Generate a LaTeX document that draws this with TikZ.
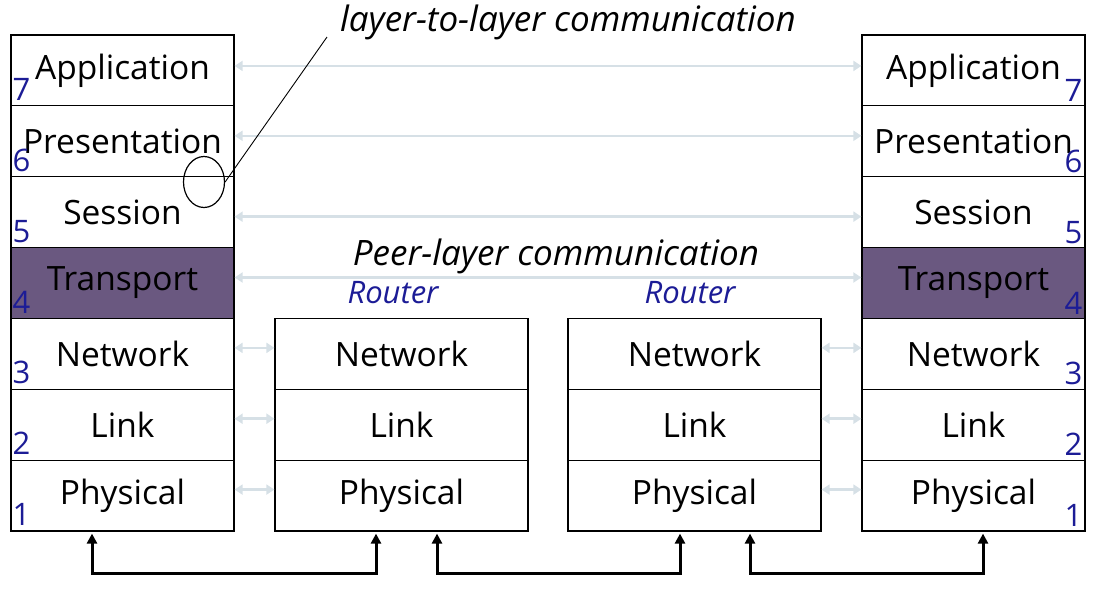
\documentclass[tikz,border=0pt]{standalone}
\usepackage{fontspec}
\setmainfont{Open Sans}
\usetikzlibrary{arrows.meta,shapes.geometric}
\definecolor{transp}{RGB}{106,88,128}
\definecolor{peer}{RGB}{214,224,230}
\definecolor{numblue}{RGB}{28,28,150}
\newcommand{\lfnt}{\fontsize{33.5}{38}\selectfont}
\newcommand{\nfnt}{\fontsize{31}{35}\selectfont}
\newcommand{\ifnt}{\fontsize{35}{40}\selectfont\itshape}
\newcommand{\rfnt}{\fontsize{31}{35}\selectfont\itshape}
\begin{document}
\begin{tikzpicture}[x=1pt,y=-1pt,
  layer/.style={draw=black, line width=1.2pt, fill=white, minimum width=223pt, minimum height=70.86pt, inner sep=0pt, font=\lfnt},
  rlayer/.style={layer, minimum width=253pt},
  numL/.style={anchor=base west, inner sep=0pt, text=numblue, font=\nfnt},
  numR/.style={anchor=base east, inner sep=0pt, text=numblue, font=\nfnt},
  peerarrow/.style={draw=peer, line width=2.5pt, {Triangle[length=8pt,width=10pt]}-{Triangle[length=8pt,width=10pt]}},
  bus/.style={draw=black, line width=3pt, {Triangle[length=10pt,width=10pt]}-{Triangle[length=10pt,width=10pt]}},
  label/.style={inner sep=0pt, font=\ifnt}
]
\useasboundingbox (0,0) rectangle (1097,590);
% left stack
\node[layer] (L7) at (122.5,70.43) {Application};
\node[layer] (L6) at (122.5,141.29) {Presentation};
\node[layer] (L5) at (122.5,212.14) {Session};
\node[layer, fill=transp] (L4) at (122.5,283) {Transport};
\node[layer] (L3) at (122.5,353.86) {Network};
\node[layer] (L2) at (122.5,424.71) {Link};
\node[layer] (L1) at (122.5,495.57) {Physical};
% right stack
\node[layer] (R7) at (973.5,70.43) {Application};
\node[layer] (R6) at (973.5,141.29) {Presentation};
\node[layer] (R5) at (973.5,212.14) {Session};
\node[layer, fill=transp] (R4) at (973.5,283) {Transport};
\node[layer] (R3) at (973.5,353.86) {Network};
\node[layer] (R2) at (973.5,424.71) {Link};
\node[layer] (R1) at (973.5,495.57) {Physical};
% routers
\node[rlayer] (A3) at (401.5,353.86) {Network};
\node[rlayer] (A2) at (401.5,424.71) {Link};
\node[rlayer] (A1) at (401.5,495.57) {Physical};
\node[rlayer] (B3) at (694.5,353.86) {Network};
\node[rlayer] (B2) at (694.5,424.71) {Link};
\node[rlayer] (B1) at (694.5,495.57) {Physical};
% numbers
\foreach \i in {1,...,7}{
  \node[numL] (nl\i) at ([xshift=2pt,yshift=6pt]L\i.south west) {\i};
  \node[numR] (nr\i) at ([xshift=-3pt,yshift=5pt]R\i.south east) {\i};
}
% peer arrows
\draw[peerarrow] ([yshift=4.5pt]L7.east) -- ([yshift=4.5pt]R7.west);
\draw[peerarrow] ([yshift=5.5pt]L6.east) -- ([yshift=5.5pt]R6.west);
\draw[peerarrow] ([yshift=-4.5pt]L5.east) -- ([yshift=-4.5pt]R5.west);
\draw[peerarrow] ([yshift=5.5pt]L4.east) -- ([yshift=5.5pt]R4.west);
\foreach \i in {1,2,3}{
  \draw[peerarrow] ([yshift=6pt]L\i.east) -- ([yshift=6pt]A\i.west);
  \draw[peerarrow] ([yshift=6pt]B\i.east) -- ([yshift=6pt]R\i.west);
}
% labels
\node[label] (peertxt) at (556,256) {Peer-layer communication};
\node[label, font=\rfnt, text=numblue] (rt1) at (393,293) {Router};
\node[label, font=\rfnt, text=numblue] (rt2) at (690,293) {Router};
\node[label] (l2l) at (568,22) {layer-to-layer communication};
% oval and pointer
\node[ellipse, draw=black, line width=1.2pt, minimum width=41pt, minimum height=51pt, inner sep=0pt] (ov) at (204,182) {};
\coordinate (ptip) at (327,37);
\draw[black, line width=0.9pt] (ov.east) -- (ptip);
% physical links
\draw[bus] ([xshift=-30.5pt,yshift=-2pt]L1.south) -- ++(0,40) -| ([xshift=-25.5pt,yshift=-2pt]A1.south);
\draw[bus] ([xshift=35.5pt,yshift=-2pt]A1.south) -- ++(0,40) -| ([xshift=-14.5pt,yshift=-2pt]B1.south);
\draw[bus] ([xshift=55.5pt,yshift=-2pt]B1.south) -- ++(0,40) -| ([xshift=9.5pt,yshift=-2pt]R1.south);
\end{tikzpicture}
\end{document}
